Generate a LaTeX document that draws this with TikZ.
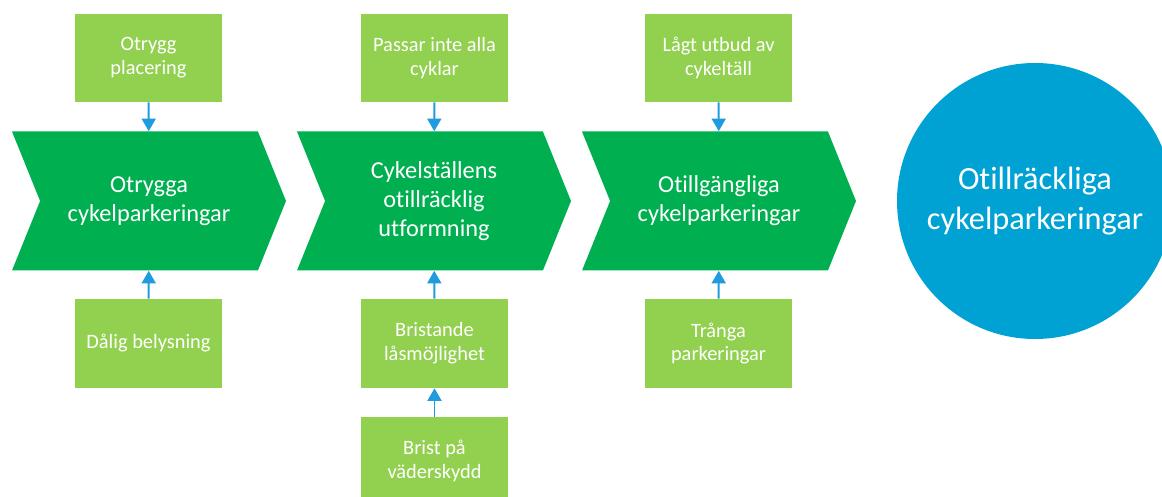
\documentclass[tikz,border=0pt]{standalone}
\usepackage{fontspec}
\setmainfont{Carlito}[Ligatures = {NoCommon}]
\usetikzlibrary{arrows.meta, shapes.symbols}

\definecolor{chevgreen}{RGB}{0,176,80}
\definecolor{causegreen}{RGB}{146,208,80}
\definecolor{effectblue}{RGB}{0,162,212}
\definecolor{linkblue}{RGB}{31,155,222}

\begin{document}
\begin{tikzpicture}[%
        x = 0.025cm,
        y = -0.025cm,
        chevron/.style = {
            shape = signal,
            signal to = east,
            signal from = west,
            signal pointer angle = 136,
            fill = chevgreen,
            text = white,
            align = center,
            inner sep = 0pt,
            minimum width = 274*0.025cm,
            minimum height = 139*0.025cm,
            font = \fontsize{17.3}{20.8}\selectfont
        },
        cause/.style = {
            rectangle,
            fill = causegreen,
            text = white,
            align = center,
            inner sep = 0pt,
            minimum width = 147*0.025cm,
            font = \fontsize{14.5}{17}\selectfont
        },
        link/.style = {
            draw = linkblue,
            line width = 1.4pt,
            -{Triangle[width = 10pt, length = 9pt]}
        }
    ]

        % Fix the size of the picture.
        \useasboundingbox (0, 0) rectangle (1162, 497);

        % The three chevrons in the chain.
        \node[chevron] (c1) at (149, 201) {Otrygga\\cykelparkeringar};
        \node[chevron] (c2) at (434, 201) {Cykelställens\\otillräcklig\\utformning};
        \node[chevron] (c3) at (719, 201) {Otillgängliga\\cykelparkeringar};

        % The final effect.
        \node[%
            circle,
            fill = effectblue,
            text = white,
            align = center,
            minimum size = 276*0.025cm,
            font = \fontsize{23}{29}\selectfont
        ] (effect) at (1035, 201) {Otillräckliga\\cykelparkeringar};

        % Causes above the chevrons.
        \node[cause, minimum height = 88*0.025cm] (t1) at (148.5, 58) {Otrygg\\placering};
        \node[cause, minimum height = 88*0.025cm] (t2) at (434.5, 58) {Passar inte alla\\cyklar};
        \node[cause, minimum height = 88*0.025cm] (t3) at (718.5, 58) {Lågt utbud av\\cykeltäll};

        % Causes below the chevrons.
        \node[cause, minimum height = 89*0.025cm] (b1) at (148.5, 343.5) {Dålig belysning};
        \node[cause, minimum height = 89*0.025cm] (b2) at (434.5, 343.5) {Bristande\\låsmöjlighet};
        \node[cause, minimum height = 89*0.025cm] (b3) at (718.5, 343.5) {Trånga\\parkeringar};
        \node[cause, minimum height = 88*0.025cm] (b4) at (434.5, 461) {Brist på\\väderskydd};

        % Arrows into the chain.
        \draw[link] (t1) -- (c1);
        \draw[link] (t2) -- (c2);
        \draw[link] (t3) -- (c3);
        \draw[link] (b1) -- (c1);
        \draw[link] (b2) -- (c2);
        \draw[link] (b3) -- (c3);
        \draw[link] (b4) -- (b2);
    \end{tikzpicture}
\end{document}
